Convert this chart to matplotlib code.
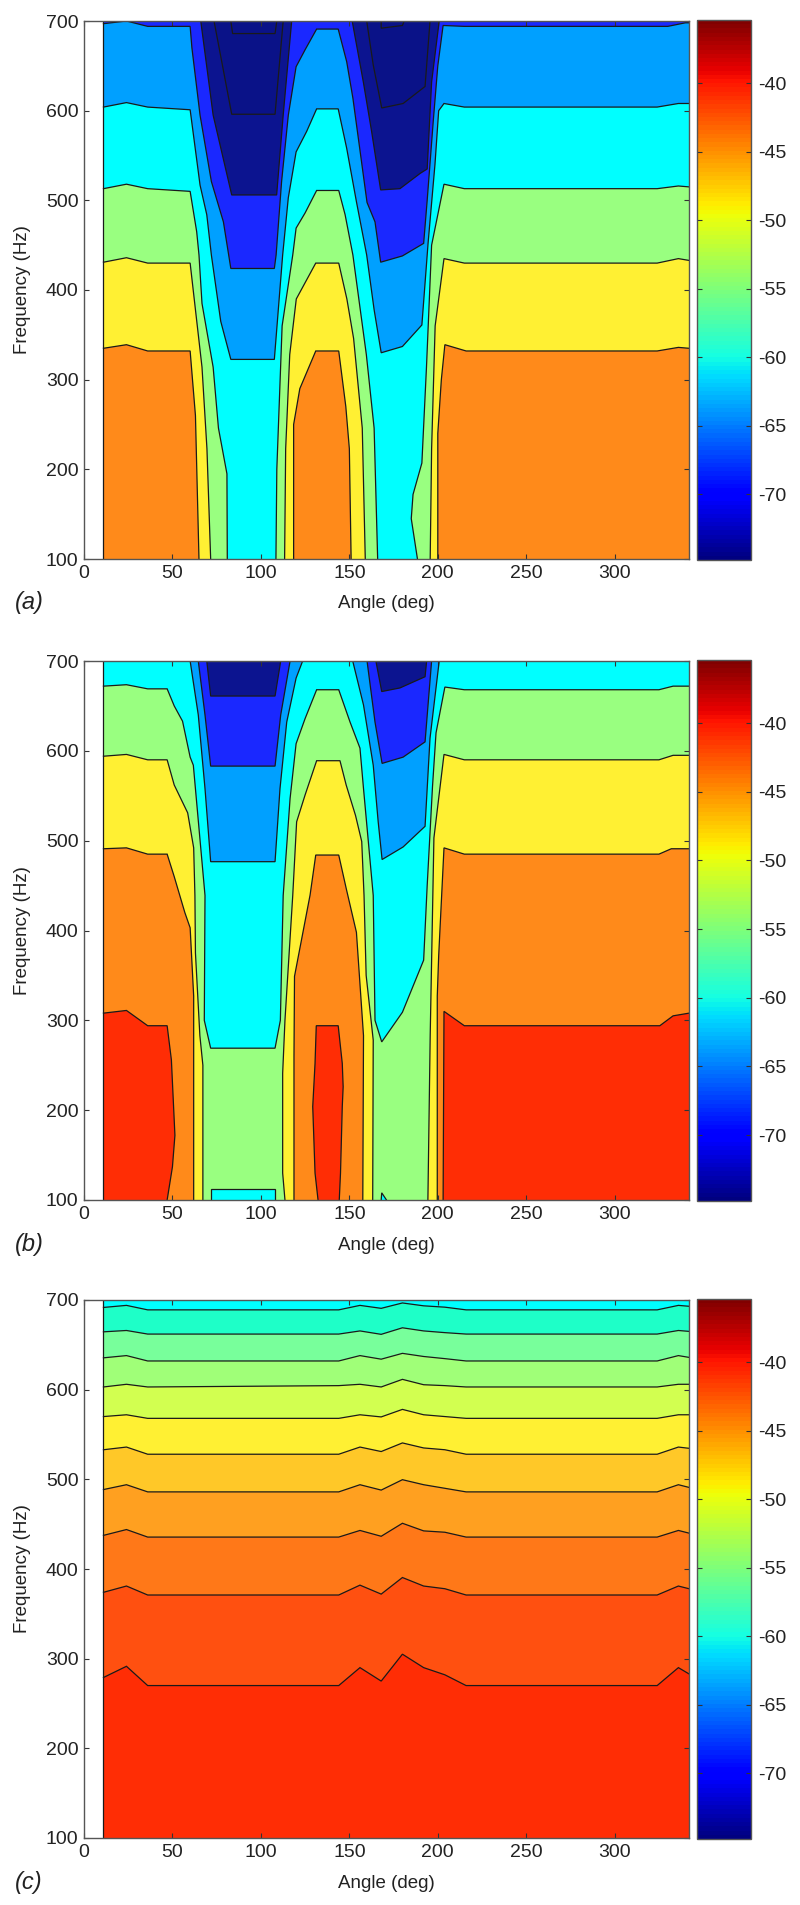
import numpy as np
import matplotlib
matplotlib.use('Agg')
import matplotlib.pyplot as plt
from matplotlib.cm import ScalarMappable
from matplotlib.colors import Normalize

plt.rcParams['font.family'] = ['Liberation Sans', 'DejaVu Sans']
plt.rcParams['axes.unicode_minus'] = False

W, H = 800, 1905
DB_MIN, DB_MAX = -74.8, -35.4
ANGLE_START, ANGLE_END = 11, 342
angle_ticks = [0, 50, 100, 150, 200, 250, 300]
freq_ticks = [100, 200, 300, 400, 500, 600, 700]
db_ticks = [-70, -65, -60, -55, -50, -45, -40]

# panel (a): contour lines, lowest frequency band first
a_bands = ['#FF8A1A', '#FFF033', '#99FF80', '#00FFFF', '#00A0FF', '#1A28FF', '#0C1490', '#0A1288', '#0A1288']
a1_angle = [11, 24, 36, 60, 63, 65, 118.5, 118.5, 122, 131, 144, 148, 150, 151, 200, 200, 202, 204, 216, 324, 336, 342]
a1_freq = [335, 339, 332, 332, 260, 100, 100, 250, 290, 332, 332, 270, 223, 100, 100, 240, 300, 339, 332, 332, 336, 335]
a2_angle = [11, 24, 36, 60, 63, 66.7, 69.5, 71.6, 113.4, 114, 116.3, 120, 131, 144, 148.6, 152.4, 157.3, 159, 195.7, 196.5, 198.5, 203.5, 215, 324, 336, 342]
a2_freq = [431, 436, 430, 430, 378, 314, 223, 100, 100, 223, 328, 390, 430, 430, 390, 346, 246, 100, 100, 223, 360, 435, 430, 430, 435, 433]
a3_angle = [11, 24, 36, 60, 63.7, 65, 66.7, 73, 76, 80.8, 81, 108.5, 109, 112, 118, 119.9, 125, 131.5, 144, 147.6, 152, 159.6, 164, 166, 188.5, 185, 186, 191, 193.6, 196.5, 203.5, 215, 324, 336, 342]
a3_freq = [513, 518, 513, 510, 465, 439, 385, 314, 246, 195, 100, 100, 200, 360, 439, 469, 486, 511, 511, 484, 439, 328, 246, 100, 100, 145, 172, 207, 314, 450, 518, 513, 513, 516, 515]
a4_angle = [11, 24, 36, 60, 65.6, 69.4, 72, 77.3, 83, 107.6, 112.3, 115.5, 119.9, 125.9, 131.5, 143.7, 148.5, 154, 159.8, 164, 168, 180, 191, 194.5, 198.4, 200.5, 203.5, 215, 324, 336, 342]
a4_freq = [604, 609, 604, 601, 517, 484, 439, 365, 322.6, 322.6, 439, 503, 554, 577, 602, 602, 558, 498.5, 439, 378, 330, 337, 361, 452, 540, 600, 608, 604, 604, 608, 608]
a5_angle = [11, 24, 36, 60, 61, 65.6, 72, 78.8, 83, 107.6, 108.6, 111.7, 115.5, 119.9, 125, 131.5, 143.7, 148.5, 152, 160, 164.5, 167.7, 180, 192, 194, 197.5, 200, 203, 215, 330, 340, 342]
a5_freq = [697, 700, 694, 694, 670, 595, 521, 476, 424, 424, 439, 521, 595, 649, 668, 691, 691, 654.6, 614, 497.6, 476, 431, 438, 452, 500, 590, 650, 695, 694, 694, 698, 698]
a6_angle = [66, 73, 83.5, 108.9, 112.6, 117.4, 151.6, 157.9, 162.6, 167.7, 178.6, 190, 194, 196.5, 200.8]
a6_freq = [700, 595, 506, 506, 595, 700, 700, 632, 576.6, 511.6, 513, 530, 535, 632, 700]
a7_angle = [73.5, 83.5, 108, 112.6, 159.8, 163.5, 168.3, 180.4, 192.8, 195.6]
a7_freq = [700, 596, 596, 700, 700, 651, 603, 608, 627, 700]
a8_angle = [83, 84, 108, 109, 168, 168, 180, 181]
a8_freq = [700, 686, 686, 700, 700, 692, 695, 700]

# panel (b)
b_bands = ['#FF2D05', '#FF8A1A', '#FFF033', '#99FF80', '#00FFFF', '#00A0FF', '#1A28FF', '#0C1490']
b_pocket = '#00FFFF'
b1_angle = [11, 24, 36, 47, 49.4, 51.4, 50, 47, 132.3, 130.6, 129.3, 130.6, 131.3, 143.7, 146, 146.5, 146, 145, 144.3, 203, 203.5, 215, 325.5, 333, 342]
b1_freq = [308, 311, 294, 294, 256, 172, 137, 100, 100, 130, 204, 252, 294, 294, 252, 226, 204, 130, 100, 100, 310, 294, 294, 305, 308]
b2_angle = [11, 24, 36, 47, 51, 57, 60, 62, 62, 118.7, 118.7, 119, 127.8, 131, 144, 148.2, 154, 158, 157.6, 199.7, 199.7, 200.5, 203.5, 215, 325, 332, 342]
b2_freq = [491, 492, 485, 485, 460, 420, 403, 327, 100, 100, 260, 349, 439.5, 484, 484, 447, 398, 283, 100, 100, 327, 372, 492, 485, 485, 491, 491]
b3_angle = [11, 24, 36, 47, 51, 58.6, 62, 62.7, 63, 65.5, 67.2, 67.2, 113.6, 112.3, 112.3, 113.6, 118, 120.2, 125, 131.5, 144.7, 148.2, 153.5, 157, 158.3, 159.5, 163.5, 163.2, 194.4, 195.7, 197.8, 203.5, 215, 325, 333, 342]
b3_freq = [594, 596, 590, 590, 562, 531, 492, 439, 375, 283, 250, 100, 100, 130, 241, 300, 439, 521, 551, 589, 589, 562, 528, 499, 439, 350, 278, 100, 100, 283, 503, 596, 590, 590, 595, 595]
b4_angle = [11, 24, 36, 47, 51, 55.7, 60, 61.8, 68.4, 68, 71.6, 108, 111, 112.6, 116.5, 119.9, 125, 131.5, 144, 150.4, 156, 158, 163.5, 164.5, 168.3, 180, 192, 194, 197, 199, 204, 215, 325, 333, 342]
b4_freq = [672, 673.6, 669, 669, 650, 633, 593, 584, 439, 300, 269, 269, 300, 439, 547, 608, 636, 668, 668, 632, 603, 558, 439, 300, 276, 309, 367, 450, 560, 620, 671, 668, 668, 672, 672]
b5_angle = [60, 64.6, 68.4, 71.6, 108, 110.8, 114.6, 119.9, 123.6, 151.9, 158, 163.5, 166.3, 168.5, 180.4, 192.8, 195.6, 200.8]
b5_freq = [700, 640, 558, 476.6, 476.6, 558, 632, 681, 700, 700, 651, 584, 521, 479, 493, 516, 614, 700]
b6_angle = [64.6, 68.4, 71.6, 108, 111.2, 116.5, 160, 164.5, 168.5, 180.4, 192.8, 196.5]
b6_freq = [700, 640, 583, 583, 640, 700, 700, 632, 586, 593, 610, 700]
b7_angle = [69.4, 71.6, 108, 111.2, 165, 168.3, 178.6, 192.8, 193.7]
b7_freq = [700, 661, 661, 700, 700, 666, 670, 682.5, 700]
# closed cyan pockets at the bottom of (b)
b_box_angle = [71.6, 71.6, 108, 108]
b_box_freq = [100, 112, 112, 100]
b_wedge_angle = [168, 168.3, 171]
b_wedge_freq = [100, 108, 100]

# panel (c): every line has a point at the same angles
c_bands = ['#FF2D05', '#FF5010', '#FF7818', '#FFA020', '#FFC828', '#FFF033', '#D2FF50', '#A0FF78', '#78FF9B', '#1EFFC8', '#00FFFF']
c_angle = [11, 24, 36, 144, 156, 168, 180, 192, 204, 216, 324, 336, 342]
c1_freq = [279, 291.5, 270, 270, 290, 275, 305, 290, 282, 270, 270, 290, 283]
c2_freq = [374, 381, 371, 371, 382, 372, 390.5, 381, 378, 371, 371, 381, 378]
c3_freq = [437.5, 444, 435.6, 435.6, 443, 436.5, 451, 442.5, 441, 435.6, 435.6, 443, 440]
c4_freq = [488.6, 494, 486, 486, 494, 488, 499.6, 494, 490, 486, 486, 494, 491]
c5_freq = [533, 536, 528, 528, 536, 531, 540.6, 535, 533, 528, 528, 536, 534.6]
c6_freq = [570, 572, 568, 568, 572, 569.6, 578, 572, 570, 568, 568, 572, 572]
c7_freq = [603, 606, 603, 604.5, 606, 603, 611.5, 605.5, 604.5, 603, 603, 606, 606]
c8_freq = [635.5, 638, 632, 632, 638, 634, 640.5, 637, 634.6, 632, 632, 638, 636]
c9_freq = [664.5, 666, 662, 662, 665.5, 661.7, 669, 665.5, 663.6, 662, 662, 666, 665]
c10_freq = [691.7, 694, 689, 689, 694, 690.7, 696.7, 693.5, 692, 689, 689, 694, 693]

cmap = plt.get_cmap('jet', 128)
norm = Normalize(DB_MIN, DB_MAX)
EDGE = '#555555'
TEXT = '#222222'


def px_axes(fig, left, top, right, bottom):
    return fig.add_axes([left/W, 1-bottom/H, (right-left)/W, (bottom-top)/H])


def draw_line(ax, x, y):
    # leave out the pieces that only run along the frame
    xs, ys = [], []
    for i in range(len(x)):
        if i > 0 and y[i] == y[i-1] and y[i] in (100, 700):
            xs.append(np.nan); ys.append(np.nan)
        xs.append(x[i]); ys.append(y[i])
    ax.plot(xs, ys, color='#1a1a1a', lw=0.9, solid_joinstyle='miter')


def panel(fig, top, bottom, label, bands, lines, pockets=()):
    ax = px_axes(fig, 84, top, 689, bottom)
    ax.fill([ANGLE_START, ANGLE_START, ANGLE_END, ANGLE_END], [100, 700, 700, 100],
            color=bands[0], lw=0)
    ax.plot([ANGLE_START, ANGLE_START], [100, 700], color='#1a1a1a', lw=0.9)
    for band, (x, y) in zip(bands[1:], lines):
        ax.fill(list(x) + [x[-1], x[0]], list(y) + [710, 710], color=band, lw=0)
        draw_line(ax, x, y)
    for band, x, y in pockets:
        ax.fill(x, y, color=band, lw=0)
        draw_line(ax, x, y)
    ax.set_xlim(0, ANGLE_END)
    ax.set_ylim(100, 700)
    ax.set_xticks(angle_ticks)
    ax.set_yticks(freq_ticks)
    ax.tick_params(direction='in', top=True, right=True, length=3.5, width=0.8, color='#333333',
                   labelsize=14, labelcolor=TEXT, pad=4)
    for s in ax.spines.values():
        s.set_color(EDGE)
        s.set_linewidth(1.0)
    fig.text(386/W, 1-(bottom+45)/H, 'Angle (deg)', ha='center', va='center', fontsize=13.5, color=TEXT)
    fig.text(23/W, 1-(top+bottom)/2/H, 'Frequency (Hz)', rotation=90, ha='center', va='center',
             fontsize=13.5, color=TEXT)
    fig.text(15/W, 1-(bottom+44)/H, label, ha='left', va='center', fontsize=17, style='italic', color=TEXT)

    cax = px_axes(fig, 697, top-1, 751, bottom+1)
    cb = fig.colorbar(ScalarMappable(norm=norm, cmap=cmap), cax=cax, ticks=db_ticks)
    cb.outline.set_edgecolor(EDGE)
    cb.outline.set_linewidth(1.0)
    cax.yaxis.set_ticks_position('both')
    cax.tick_params(direction='in', length=3.5, width=0.8, color='#333333', labelleft=False,
                    labelright=True, labelsize=14, labelcolor=TEXT, pad=5)
    return ax


fig = plt.figure(figsize=(W/100, H/100), dpi=100, facecolor='white')
panel(fig, 21, 559, '(a)', a_bands,
      [(a1_angle, a1_freq), (a2_angle, a2_freq), (a3_angle, a3_freq), (a4_angle, a4_freq),
       (a5_angle, a5_freq), (a6_angle, a6_freq), (a7_angle, a7_freq), (a8_angle, a8_freq)])
panel(fig, 661, 1200, '(b)', b_bands,
      [(b1_angle, b1_freq), (b2_angle, b2_freq), (b3_angle, b3_freq), (b4_angle, b4_freq),
       (b5_angle, b5_freq), (b6_angle, b6_freq), (b7_angle, b7_freq)],
      pockets=[(b_pocket, b_box_angle, b_box_freq), (b_pocket, b_wedge_angle, b_wedge_freq)])
panel(fig, 1300, 1838, '(c)', c_bands,
      [(c_angle, f) for f in [c1_freq, c2_freq, c3_freq, c4_freq, c5_freq, c6_freq, c7_freq,
                              c8_freq, c9_freq, c10_freq]])
fig.savefig('out.png', dpi=100)
